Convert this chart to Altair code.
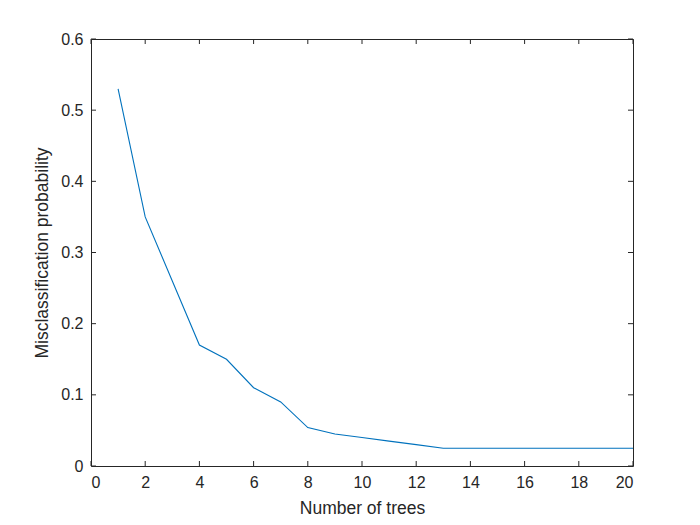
import altair as alt
import pandas as pd

trees = list(range(1, 21))
misclass = [0.53, 0.35, 0.26, 0.17, 0.15, 0.11, 0.09, 0.054, 0.045, 0.040,
            0.035, 0.030, 0.025, 0.025, 0.025, 0.025, 0.025, 0.025, 0.025, 0.025]
x_ticks = [0, 2, 4, 6, 8, 10, 12, 14, 16, 18, 20]
y_ticks = [0, 0.1, 0.2, 0.3, 0.4, 0.5, 0.6]

W, H = 542, 427
AX = "#262626"
FONT = "Liberation Sans"

df = pd.DataFrame({"trees": trees, "p": misclass})
xt = pd.DataFrame({"t": x_ticks})
yt = pd.DataFrame({"t": y_ticks})

xscale = alt.Scale(domain=[0, 20], nice=False, zero=False)
yscale = alt.Scale(domain=[0, 0.6], nice=False, zero=False)

line = alt.Chart(df).mark_line(color="#0072BD", strokeWidth=1.1).encode(
    x=alt.X("trees:Q", scale=xscale,
            axis=alt.Axis(title="Number of trees", values=x_ticks, format="d",
                          domain=False, ticks=False, grid=False,
                          labelPadding=8, titlePadding=9)),
    y=alt.Y("p:Q", scale=yscale,
            axis=alt.Axis(title="Misclassification probability", values=y_ticks,
                          format=".1~f", domain=False, ticks=False, grid=False,
                          labelPadding=8, titlePadding=9)),
)

tick_style = dict(color=AX, strokeWidth=1)
xb = alt.Chart(xt).mark_rule(**tick_style).encode(
    x=alt.X("t:Q", scale=xscale), y=alt.value(H), y2=alt.value(H - 5))
xtp = alt.Chart(xt).mark_rule(**tick_style).encode(
    x=alt.X("t:Q", scale=xscale), y=alt.value(0), y2=alt.value(5))
yl = alt.Chart(yt).mark_rule(**tick_style).encode(
    y=alt.Y("t:Q", scale=yscale), x=alt.value(0), x2=alt.value(5))
yr = alt.Chart(yt).mark_rule(**tick_style).encode(
    y=alt.Y("t:Q", scale=yscale), x=alt.value(W), x2=alt.value(W - 5))

chart = alt.layer(line, xb, xtp, yl, yr).properties(
    width=W, height=H,
    autosize=alt.AutoSizeParams(type="none"),
    padding={"left": 83, "top": 31, "right": 20, "bottom": 56},
    background="white",
).configure_view(
    stroke=AX, strokeWidth=1
).configure_axis(
    labelFont=FONT, titleFont=FONT, labelFontSize=16, titleFontSize=17.5,
    labelColor=AX, titleColor=AX, titleFontWeight="normal",
)

chart.save("out.html", embed_options={"renderer": "svg", "actions": False})
